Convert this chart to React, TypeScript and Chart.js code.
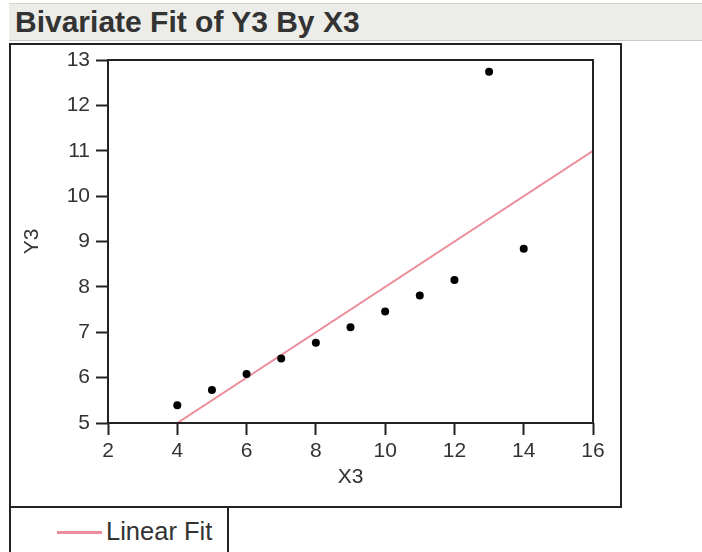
import React, { useEffect, useRef } from "react";
import { Chart, registerables } from "chart.js";

Chart.register(...registerables);

// ---- data (Anscombe III) ----
const xValues = [10, 8, 13, 9, 11, 14, 6, 4, 12, 7, 5];
const yValues = [7.46, 6.77, 12.74, 7.11, 7.81, 8.84, 6.08, 5.39, 8.15, 6.42, 5.73];
const fitX = [4, 16];
const fitY = [5, 11];
const xTicks = [2, 4, 6, 8, 10, 12, 14, 16];
const yTicks = [5, 6, 7, 8, 9, 10, 11, 12, 13];
const headerTitle = "Bivariate Fit of Y3 By X3";
const xTitle = "X3";
const yTitle = "Y3";
const fitLabel = "Linear Fit";

const W = 702;
const H = 552;
const PLOT = { left: 108, top: 60, right: 593, bottom: 423 };
const FIT_COLOR = "#ec8d9b";
const AXIS_FONT = { family: "'Liberation Sans', Arial, sans-serif", size: 21 };
const TEXT_COLOR = "#333333";

const plotBox = {
  id: "plotBox",
  afterDatasetsDraw(chart: any) {
    const { ctx, chartArea } = chart;
    ctx.save();
    ctx.strokeStyle = "#222222";
    ctx.lineWidth = 2;
    ctx.strokeRect(chartArea.left, chartArea.top, chartArea.right - chartArea.left, chartArea.bottom - chartArea.top);
    ctx.restore();
  },
};

export default function App() {
  const canvasRef = useRef<HTMLCanvasElement | null>(null);

  useEffect(() => {
    if (!canvasRef.current) return;
    const chart = new Chart(canvasRef.current, {
      type: "scatter",
      data: {
        datasets: [
          {
            type: "line",
            label: fitLabel,
            data: fitX.map((x, i) => ({ x, y: fitY[i] })),
            borderColor: FIT_COLOR,
            borderWidth: 2,
            pointRadius: 0,
            fill: false,
            order: 2,
          } as any,
          {
            type: "scatter",
            label: yTitle,
            data: xValues.map((x, i) => ({ x, y: yValues[i] })),
            backgroundColor: "#000000",
            borderColor: "#000000",
            pointRadius: 4,
            pointBorderWidth: 0,
            order: 1,
          },
        ],
      },
      options: {
        responsive: false,
        animation: false,
        devicePixelRatio: 1,
        layout: { padding: { left: 0, top: PLOT.top, right: W - PLOT.right, bottom: 0 } },
        plugins: { legend: { display: false }, tooltip: { enabled: false } },
        scales: {
          x: {
            type: "linear",
            min: xTicks[0],
            max: xTicks[xTicks.length - 1],
            afterFit: (s: any) => {
              s.height = H - PLOT.bottom;
            },
            afterBuildTicks: (s: any) => {
              s.ticks = xTicks.map((v) => ({ value: v }));
            },
            ticks: { font: AXIS_FONT, color: TEXT_COLOR, padding: 4, maxRotation: 0, autoSkip: false },
            grid: { drawOnChartArea: false, drawTicks: true, tickLength: 12, tickColor: "#222", tickWidth: 2 },
            border: { display: false },
            title: { display: true, text: xTitle, font: AXIS_FONT, color: TEXT_COLOR, padding: { top: 0, bottom: 62 } },
          },
          y: {
            type: "linear",
            min: yTicks[0],
            max: yTicks[yTicks.length - 1],
            afterFit: (s: any) => {
              s.width = PLOT.left;
            },
            afterBuildTicks: (s: any) => {
              s.ticks = yTicks.map((v) => ({ value: v }));
            },
            ticks: { font: AXIS_FONT, color: TEXT_COLOR, padding: 6, autoSkip: false },
            grid: { drawOnChartArea: false, drawTicks: true, tickLength: 12, tickColor: "#222", tickWidth: 2 },
            border: { display: false },
            title: { display: true, text: yTitle, font: AXIS_FONT, color: TEXT_COLOR, padding: { top: 20, bottom: 0 } },
          },
        },
      },
      plugins: [plotBox],
    });
    return () => chart.destroy();
  }, []);

  return (
    <div style={{ position: "fixed", left: 0, top: 0, width: W, height: H, background: "#fff", overflow: "hidden" }}>
      <div
        style={{
          position: "absolute",
          left: 9,
          top: 3,
          width: W - 9,
          height: 38,
          background: "#ecece8",
          borderTop: "1px solid #d4d4d0",
          borderBottom: "1px solid #c8c8c4",
          boxSizing: "border-box",
        }}
      />
      <div
        style={{
          position: "absolute",
          left: 15,
          top: 5,
          lineHeight: "38px",
          font: "bold 30px 'Liberation Sans', Arial, sans-serif",
          color: TEXT_COLOR,
          whiteSpace: "nowrap",
        }}
      >
        {headerTitle}
      </div>
      <div
        style={{
          position: "absolute",
          left: 9,
          top: 43,
          width: 613,
          height: 465,
          border: "2px solid #222",
          boxSizing: "border-box",
        }}
      />
      <div
        style={{
          position: "absolute",
          left: 9,
          top: 506,
          width: 220,
          height: 70,
          border: "2px solid #222",
          boxSizing: "border-box",
        }}
      />
      <div style={{ position: "absolute", left: 57, top: 531, width: 45, height: 3, background: FIT_COLOR }} />
      <div
        style={{
          position: "absolute",
          left: 106,
          top: 517,
          lineHeight: "30px",
          font: "25.5px 'Liberation Sans', Arial, sans-serif",
          color: TEXT_COLOR,
          whiteSpace: "nowrap",
        }}
      >
        {fitLabel}
      </div>
      <canvas
        ref={canvasRef}
        width={W}
        height={H}
        style={{ position: "absolute", left: 0, top: 0, width: W, height: H }}
      />
    </div>
  );
}
